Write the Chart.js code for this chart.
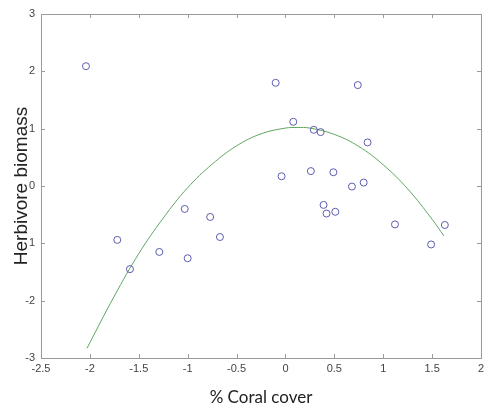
<!DOCTYPE html>
<html>
<head>
<meta charset="utf-8">
<script src="https://cdn.jsdelivr.net/npm/chart.js@4"></script>
<style>
  html, body { margin: 0; padding: 0; background: #fff; }
  #wrap { width: 493px; height: 408px; }
</style>
</head>
<body>
<div id="wrap"><canvas id="coralChart" width="493" height="408"></canvas></div>
<script>
// Observed sites (standardised values)
const coralX = [-2.04, -1.72, -1.59, -1.29, -1.03, -1.00, -0.77, -0.67, -0.10, -0.04, 0.08, 0.26, 0.29,
                0.36, 0.39, 0.42, 0.49, 0.51, 0.68, 0.74, 0.80, 0.84, 1.12, 1.49, 1.63];
const biomassY = [2.09, -0.94, -1.45, -1.15, -0.40, -1.26, -0.54, -0.89, 1.80, 0.17, 1.12, 0.26, 0.98,
                  0.94, -0.33, -0.48, 0.24, -0.45, -0.01, 1.76, 0.06, 0.76, -0.67, -1.02, -0.68];

// Fitted curve
const fitX = [-2.03, -1.75, -1.5, -1.25, -1.0, -0.75, -0.5, -0.25, 0, 0.12, 0.25, 0.5, 0.75, 1.0, 1.25, 1.5, 1.62];
const fitY = [-2.83, -1.92, -1.18, -0.56, -0.03, 0.38, 0.70, 0.91, 1.01, 1.02, 1.01, 0.90, 0.69, 0.37, -0.05, -0.58, -0.87];

// Tick labels as printed on the figure
const xTickLabels = ['-2.5', '-2', '-1.5', '-1', '-0.5', '0', '0.5', '1', '1.5', '2'];
const yTickLabels = ['-3', '-2', '1', '0', '1', '2', '3'];

const axisGray = '#9a9a9a';

// box around the plot + inward ticks on all four sides
const boxTicks = {
    id: 'boxTicks',
    afterDraw(chart) {
        const {ctx, chartArea: a, scales: {x, y}} = chart;
        ctx.save();
        ctx.strokeStyle = axisGray;
        ctx.lineWidth = 1;
        ctx.strokeRect(a.left + 0.5, a.top + 0.5, a.right - a.left, a.bottom - a.top);
        ctx.beginPath();
        x.ticks.forEach(t => {
            const px = Math.round(x.getPixelForValue(t.value)) + 0.5;
            ctx.moveTo(px, a.bottom); ctx.lineTo(px, a.bottom - 4);
            ctx.moveTo(px, a.top); ctx.lineTo(px, a.top + 4);
        });
        y.ticks.forEach(t => {
            const py = Math.round(y.getPixelForValue(t.value)) + 0.5;
            ctx.moveTo(a.left, py); ctx.lineTo(a.left + 4, py);
            ctx.moveTo(a.right, py); ctx.lineTo(a.right - 4, py);
        });
        ctx.stroke();
        ctx.restore();
    }
};

const ctx = document.getElementById('coralChart').getContext('2d');
new Chart(ctx, {
    type: 'scatter',
    data: {
        datasets: [{
            label: 'Sites',
            data: coralX.map((v, i) => ({x: v, y: biomassY[i]})),
            pointRadius: 3.5,
            pointBorderWidth: 1,
            pointBorderColor: '#5c5cb0',
            pointBackgroundColor: 'rgba(0,0,0,0)'
        },
        {
            label: 'Fit',
            data: fitX.map((v, i) => ({x: v, y: fitY[i]})),
            showLine: true,
            pointRadius: 0,
            borderColor: '#5fa65f',
            borderWidth: 1,
            tension: 0.4
        }]
    },
    options: {
        responsive: false,
        animation: false,
        layout: {
            padding: {top: 14, right: 12, left: 0, bottom: 0}
        },
        plugins: {
            legend: { display: false },
            tooltip: { enabled: false }
        },
        scales: {
            x: {
                type: 'linear',
                min: -2.5,
                max: 2,
                afterFit: s => { s.height = 50; },
                afterBuildTicks: s => { s.ticks = xTickLabels.map(v => ({value: parseFloat(v)})); },
                grid: { display: false, drawTicks: false },
                border: { display: false },
                ticks: {
                    padding: 4,
                    color: '#444',
                    font: { family: 'Liberation Sans', size: 11 },
                    callback: (v, i) => xTickLabels[i]
                },
                title: {
                    display: true,
                    text: '% Coral cover',
                    color: '#222',
                    font: { family: 'Lato', size: 17 },
                    padding: { top: 8, bottom: 0 }
                }
            },
            y: {
                type: 'linear',
                min: -3,
                max: 3,
                afterFit: s => { s.width = 41; },
                afterBuildTicks: s => { s.ticks = [-3, -2, -1, 0, 1, 2, 3].map(v => ({value: v})); },
                grid: { display: false, drawTicks: false },
                border: { display: false },
                ticks: {
                    padding: 6,
                    color: '#444',
                    font: { family: 'Liberation Sans', size: 11 },
                    callback: (v, i) => yTickLabels[i]
                },
                title: {
                    display: true,
                    text: 'Herbivore biomass',
                    color: '#222',
                    font: { family: 'Liberation Sans', size: 19 },
                    padding: { top: 10, bottom: 0 }
                }
            }
        }
    },
    plugins: [boxTicks]
});
</script>
</body>
</html>
